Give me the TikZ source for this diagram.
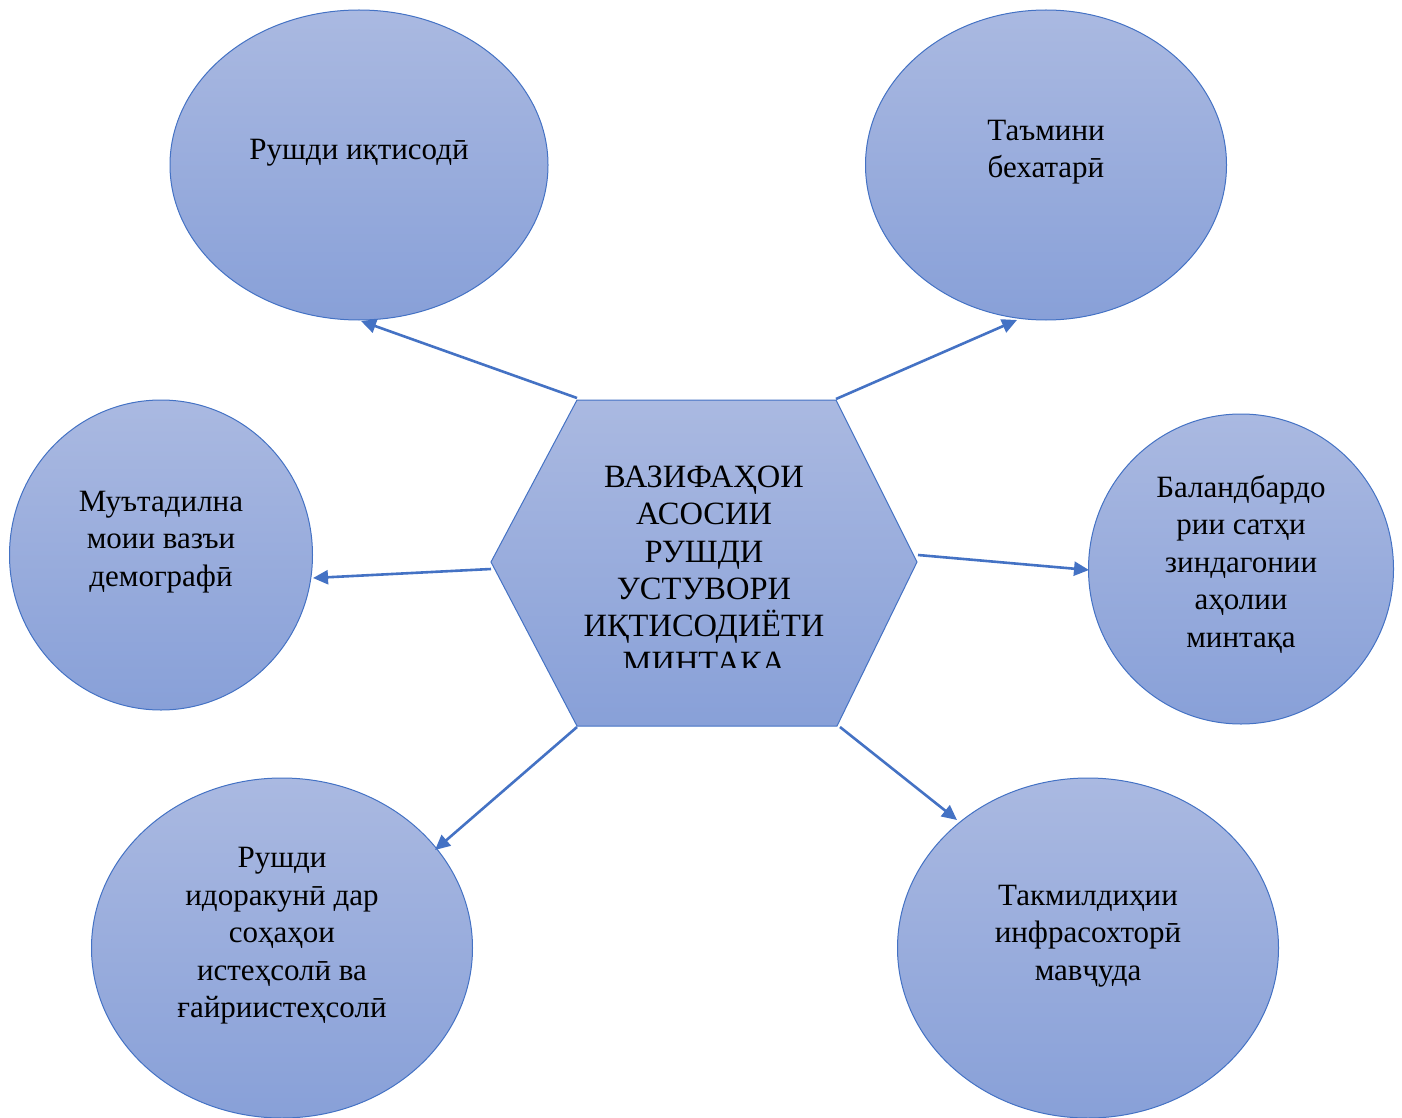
\documentclass[tikz,border=0pt]{standalone}
\usepackage{fontspec}
\setmainfont{Liberation Serif}
\usetikzlibrary{shapes.geometric,arrows.meta}
\definecolor{bord}{HTML}{4472C4}
\definecolor{ftop}{RGB}{170,185,225}
\definecolor{fbot}{RGB}{136,160,216}
\begin{document}
\begin{tikzpicture}[x=1pt,y=-1pt,
 bubble/.style={ellipse,draw=bord,line width=1pt,top color=ftop,bottom color=fbot,inner sep=0pt},
 lbl/.style={align=center,font=\fontsize{31}{37.5}\selectfont,text=black,inner sep=0pt},
 hexlbl/.style={align=center,font=\fontsize{32.5}{37.2}\selectfont,text=black,inner sep=0pt},
 conn/.style={draw=bord,line width=2.6pt,-{Triangle[length=15pt,width=14pt]}}]
\useasboundingbox (0,0) rectangle (1402,1118);

% ellipses
\node[bubble,minimum width=378pt,minimum height=310pt] (e1) at (359,165) {};
\node[bubble,minimum width=361pt,minimum height=310pt] (e2) at (1046,165) {};
\node[bubble,minimum width=303pt,minimum height=310pt] (e3) at (161,555) {};
\node[bubble,minimum width=305pt,minimum height=310pt] (e4) at (1241,569) {};
\node[bubble,minimum width=381pt,minimum height=340pt] (e5) at (282,948) {};
\node[bubble,minimum width=381pt,minimum height=340pt] (e6) at (1088,948) {};

% hexagon
\coordinate (hTL) at (577,400);
\coordinate (hTR) at (836,400);
\coordinate (hR) at (917,562);
\coordinate (hBR) at (837,726);
\coordinate (hBL) at (577,726);
\coordinate (hL) at (491,562);
\path[draw=bord,line width=1pt,top color=ftop,bottom color=fbot]
  (hTL) -- (hTR) -- (hR) -- (hBR) -- (hBL) -- (hL) -- cycle;

% labels
\node[lbl] (t1) at (359,153) {Рушди иқтисодӣ};
\node[lbl] (t2) at (1046,152) {Таъмини\\бехатарӣ};
\node[lbl] (t3) at (161,542) {Муътадилна\\моии вазъи\\демографӣ};
\node[lbl] (t4) at (1241,564) {Баландбардо\\рии сатҳи\\зиндагонии\\аҳолии\\минтақа};
\node[lbl] (t5) at (282,936) {Рушди\\идоракунӣ дар\\соҳаҳои\\истеҳсолӣ ва\\ғайриистеҳсолӣ};
\node[lbl] (t6) at (1088,936) {Такмилдиҳии\\инфрасохторӣ\\мавҷуда};
\begin{scope}
\clip (495,440) rectangle (915,667);
\node[hexlbl] (th) at (704,570) {ВАЗИФАҲОИ\\АСОСИИ\\РУШДИ\\УСТУВОРИ\\ИҚТИСОДИЁТИ\\МИНТАКА};
\end{scope}

% connector ends
\coordinate (s1) at (577,398);
\coordinate (s2) at (836,399);
\coordinate (s3) at (491,569);
\coordinate (s4) at (918,555);
\coordinate (s5) at (577,727);
\coordinate (s6) at (840,727);
\coordinate (d1) at (361,321);
\coordinate (d2) at (1017,320);
\coordinate (d3) at (313,578);
\coordinate (d4) at (1089,570);
\coordinate (d5) at (435,850);
\coordinate (d6) at (957,820);

\draw[conn] (s1) -- (d1);
\draw[conn] (s2) -- (d2);
\draw[conn] (s3) -- (d3);
\draw[conn] (s4) -- (d4);
\draw[conn] (s5) -- (d5);
\draw[conn] (s6) -- (d6);
\end{tikzpicture}
\end{document}
